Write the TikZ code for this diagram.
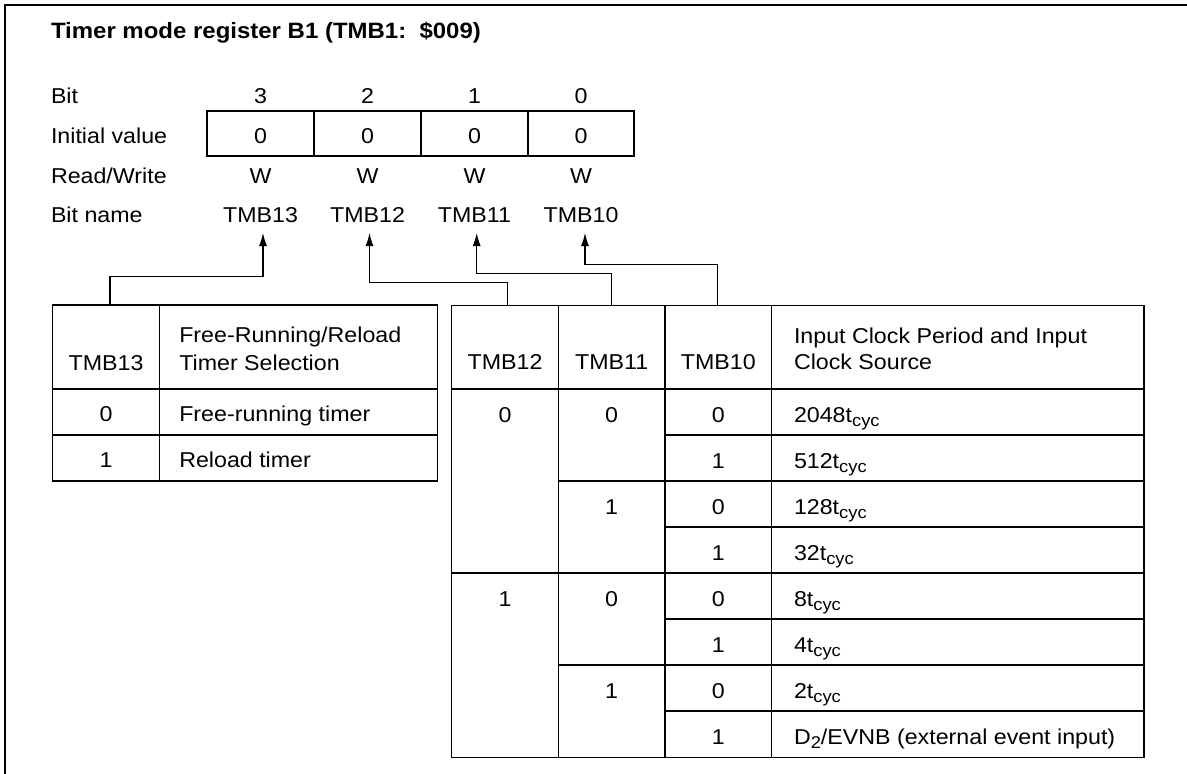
\documentclass[tikz,border=0pt]{standalone}
\usepackage{fontspec}
\setmainfont{Liberation Sans}[FakeStretch=1.08]
\usetikzlibrary{arrows.meta}
\newcommand\mainsize{\fontsize{21.5}{25}\selectfont}
\newcommand\lowsub[1]{\raisebox{-4pt}{\fontsize{17}{18}\selectfont #1}}
\newcommand\tcycx{t\lowsub{cyc}}
\begin{document}
\begin{tikzpicture}[x=1pt,y=-1pt,line width=1.2pt,
  txt/.style={inner sep=0pt,outer sep=0pt,anchor=base,font=\mainsize},
  ltxt/.style={txt,anchor=base west},
  arr/.style={-{Latex[length=13pt,width=8pt]},line width=1.1pt},
  rule/.style={line width=1.2pt}]
\useasboundingbox (0,0) rectangle (1187,774);
% frame (top and left visible)
\draw[line width=1.6pt] (5,774) -- (5,5) -- (1187,5);

% title
\node[ltxt,font=\bfseries\fontsize{22.2}{26}\selectfont] (title) at (51,38) {Timer mode register B1 (TMB1:\ \ \$009)};

% row labels
\node[ltxt] (lbit)  at (51,103) {Bit};
\node[ltxt] (linit) at (51,143) {Initial value};
\node[ltxt] (lrw)   at (51,183) {Read/Write};
\node[ltxt] (lname) at (51,222) {Bit name};

% register box
\draw[rule] (207,111) rectangle (634,156);
\foreach \x in {314,421,528} \draw[rule] (\x,111) -- (\x,156);

\foreach \c/\b/\n/\k in {260.5/3/TMB13/13,367.5/2/TMB12/12,474.5/1/TMB11/11,581/0/TMB10/10}{
  \node[txt] (bit\k) at (\c,103) {\b};
  \node[txt] (iv\k)  at (\c,143) {0};
  \node[txt] (rw\k)  at (\c,183) {W};
  \node[txt] (nm\k)  at (\c,222) {\n};
}

% arrow targets
\coordinate (a13) at (263,233);
\coordinate (a12) at (369.5,233);
\coordinate (a11) at (476.7,233);
\coordinate (a10) at (585,233);

% left table
\draw[rule] (52.7,305) rectangle (437.3,481);
\draw[rule] (159.3,305) -- (159.3,481);
\draw[rule] (52.7,389) -- (437.3,389);
\draw[rule] (52.7,435) -- (437.3,435);
\node[txt]  (lh1)  at (106,370) {TMB13};
\node[ltxt] (lh2a) at (179.3,342.7) {Free-Running/Reload};
\node[ltxt] (lh2b) at (179.3,370) {Timer Selection};
\node[txt]  (lr0a) at (106,421) {0};
\node[ltxt] (lr0b) at (179.3,421) {Free-running timer};
\node[txt]  (lr1a) at (106,467) {1};
\node[ltxt] (lr1b) at (179.3,467) {Reload timer};

% right table
\draw[rule] (451.7,305.5) rectangle (1144,757.7);
\foreach \x in {558.3,665,771.7} \draw[rule] (\x,305.5) -- (\x,757.7);
\draw[rule] (451.7,389) -- (1144,389);
\draw[rule] (451.7,573) -- (1144,573);
\foreach \y in {481,665} \draw[rule] (558.3,\y) -- (1144,\y);
\foreach \y in {435,527,619,711} \draw[rule] (665,\y) -- (1144,\y);

\node[txt]  (rh12) at (505,369.5) {TMB12};
\node[txt]  (rh11) at (611.7,369.5) {TMB11};
\node[txt]  (rh10) at (718.3,369.5) {TMB10};
\node[ltxt] (rhsa) at (794,343.3) {Input Clock Period and Input};
\node[ltxt] (rhsb) at (794,369.5) {Clock Source};

% connector start points on the table tops
\coordinate (s13) at (110,305);
\coordinate (s12) at (507.5,305.5);
\coordinate (s11) at (611.7,305.5);
\coordinate (s10) at (717.7,305.5);

\draw[arr] (s13) -- (110,276.7) -| (a13);
\draw[arr] (s12) -- (507.5,282.7) -| (a12);
\draw[arr] (s11) -- (611.7,273.3) -| (a11);
\draw[arr] (s10) -- (717.7,264.3) -| (a10);

% TMB12 column
\node[txt] (r12a) at (505,422.7) {0};
\node[txt] (r12b) at (505,606.7) {1};
% TMB11 column
\node[txt] (r11a) at (611.7,422.7) {0};
\node[txt] (r11b) at (611.7,514.7) {1};
\node[txt] (r11c) at (611.7,606.7) {0};
\node[txt] (r11d) at (611.7,698.7) {1};
% TMB10 column and sources
\foreach \i/\v/\s in {0/0/2048\tcycx,1/1/512\tcycx,2/0/128\tcycx,3/1/32\tcycx,4/0/8\tcycx,5/1/4\tcycx,6/0/2\tcycx,7/1/{D\lowsub{2}/EVNB (external event input)}}{
  \node[txt]  (r10\i) at (718.3,422.7+46*\i) {\v};
  \node[ltxt] (src\i) at (794,422.7+46*\i) {\s};
}
\end{tikzpicture}
\end{document}
